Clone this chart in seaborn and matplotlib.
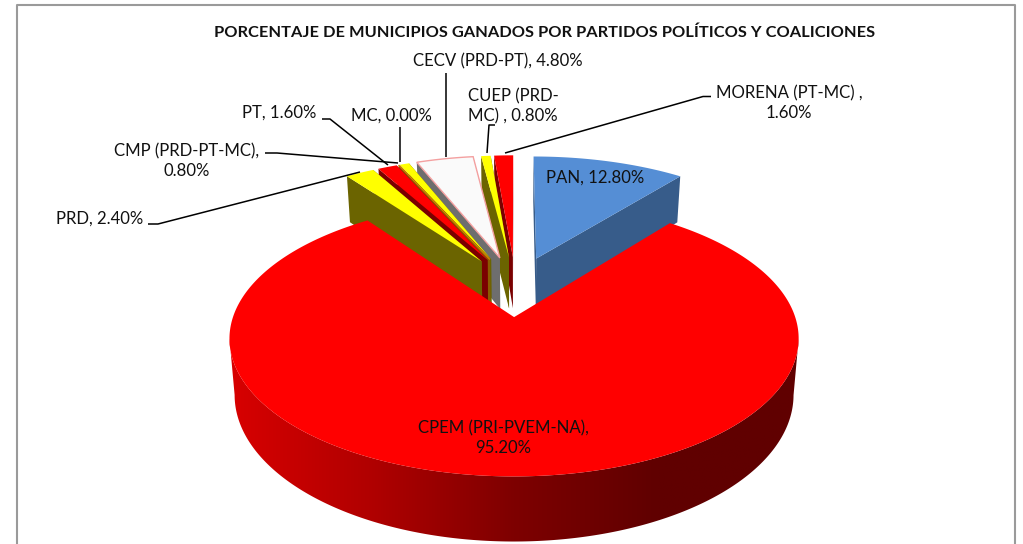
import matplotlib.pyplot as plt
import numpy as np
import seaborn as sns
from matplotlib.patches import Polygon

TITLE = "PORCENTAJE DE MUNICIPIOS GANADOS POR PARTIDOS POLÍTICOS Y COALICIONES"

parties = ["PAN", "CPEM", "PRD", "PT", "MC", "CMP", "CECV", "CUEP", "MORENA"]
percents = [12.80, 95.20, 2.40, 1.60, 0.00, 0.80, 4.80, 0.80, 1.60]
label_formats = [
    "PAN, {:.2f}%",
    "CPEM (PRI-PVEM-NA),\n{:.2f}%",
    "PRD, {:.2f}%",
    "PT, {:.2f}%",
    "MC, {:.2f}%",
    "CMP (PRD-PT-MC),\n{:.2f}%",
    "CECV (PRD-PT), {:.2f}%",
    "CUEP (PRD-\nMC) , {:.2f}%",
    "MORENA (PT-MC) ,\n{:.2f}%",
]

top_colors = ["#558ed5", "#ff0000", "#ffff00", "#ff0000", "#e08000", "#ffff00", "#fafafa", "#ffff00", "#ff0000"]
wall_colors = ["#375c8a", "#600000", "#6b6400", "#7a0000", "#8a5a00", "#6b6400", "#6e6e6e", "#6b6400", "#7a0000"]

# text anchors and leader lines, in pixels of the figure
label_xy = [(595, 178), (503, 438), (100, 219), (279, 113), (391, 116), (187, 161), (498, 61), (513, 106), (789, 103)]
leaders = {
    "PRD": [(148, 224), (158, 224), (360, 172)],
    "CMP": [(265, 153), (277, 153), (398, 163)],
    "PT": [(322, 119), (330, 119), (388, 165)],
    "MC": [(400, 127), (400, 162)],
    "CECV": [(445.7, 73), (445.7, 157)],
    "CUEP": [(495, 125), (489, 125), (487, 153)],
    "MORENA": [(711, 96.5), (703, 96.5), (505, 153)],
}

# perspective of the fake 3d pie
X0, Y0 = 515.5, 286
A, B = 271, 125
DEPTH = 53
P = 0.15
EXPLODE = 0.24
BOTTOM_SHRINK = 0.018


def project(u, v, z=0.0):
    s = 1 / (1 - P * v)
    return np.column_stack([X0 + A * u * s * (1 - BOTTOM_SHRINK * z), Y0 + (B * v + DEPTH * z) * s])


def slice_points(start, end, n=None):
    n = n or max(int(end - start) * 2, 2)
    theta = np.radians(np.linspace(start, end, n))
    mid = np.radians((start + end) / 2)
    au, av = EXPLODE * np.sin(mid), -EXPLODE * np.cos(mid)
    return au, av, au + np.sin(theta), av - np.cos(theta)


def draw_poly(ax, pts, color, edge="none", lw=0):
    ax.add_patch(Polygon(pts, closed=True, facecolor=color, edgecolor=edge, linewidth=lw))


sns.set_theme(style="white", font="Lato")
fig, ax = plt.subplots(figsize=(10.23, 5.44), dpi=100)
ax.set_position([0, 0, 1, 1])
ax.axis("off")

# chart frame, open at the bottom because the picture is cropped there
ax.plot([17, 17, 1015, 1015], [544, 5, 5, 544], color="#9a9a9a", lw=1.5)

angles = np.cumsum([0] + [p / sum(percents) * 360 for p in percents])

# right to left, so each slice hides the wall of the one next to it
for i in reversed(range(len(parties))):
    name = parties[i]
    start, end = angles[i], angles[i + 1]
    if name == "CPEM":
        continue
    au, av, us, vs = slice_points(start, end)
    for k in [-1, 0]:
        a = project(np.array([au, us[k]]), np.array([av, vs[k]]))
        b = project(np.array([us[k], au]), np.array([vs[k], av]), 1)
        draw_poly(ax, np.vstack([a, b]), wall_colors[i])
    top = np.vstack([project(np.array([au]), np.array([av])), project(us, vs)])
    if name == "CECV":
        draw_poly(ax, top, top_colors[i], edge="#f4a0a0", lw=1)
    elif name == "MC":
        draw_poly(ax, top, top_colors[i], edge=top_colors[i], lw=0.8)
    else:
        draw_poly(ax, top, top_colors[i])

# the big slice goes last: shaded outer wall and then its top
i = parties.index("CPEM")
au, av, us, vs = slice_points(angles[i], angles[i + 1], 500)
rim = project(us, vs)
# the wall runs between the two points where the rim turns back
right_end, left_end = rim[:, 0].argmax(), rim[:, 0].argmin()
us_f, vs_f = us[right_end : left_end + 1], vs[right_end : left_end + 1]
wall = np.vstack([project(us_f, vs_f), project(us_f[::-1], vs_f[::-1], 1)])
shades = sns.blend_palette(["#d80000", "#b00000", "#7e0000", "#600000", "#600000"], 256)
x_lo, x_hi = wall[:, 0].min(), wall[:, 0].max()
im = ax.imshow(np.array(shades)[None, :, :], extent=[x_lo, x_hi, wall[:, 1].max(), wall[:, 1].min()],
               aspect="auto", interpolation="bilinear")
wall_patch = Polygon(wall, closed=True, facecolor="none", edgecolor="none")
ax.add_patch(wall_patch)
im.set_clip_path(wall_patch)
top = np.vstack([project(np.array([au]), np.array([av])), rim])
draw_poly(ax, top, "#ff0000")

for pts in leaders.values():
    xs, ys = zip(*pts)
    ax.plot(xs, ys, color="black", lw=1.1, solid_capstyle="butt")

ax.text(545, 33, TITLE, ha="center", va="center", fontsize=11.8, fontweight="bold", color="#111111")
for fmt, pct, (x, y) in zip(label_formats, percents, label_xy):
    ax.text(x, y, fmt.format(pct), ha="center", va="center", ma="center", fontsize=12.05,
            color="#111111", linespacing=1.3)

ax.set_xlim(0, 1023)
ax.set_ylim(544, 0)
fig.savefig("out.png", dpi=100)
